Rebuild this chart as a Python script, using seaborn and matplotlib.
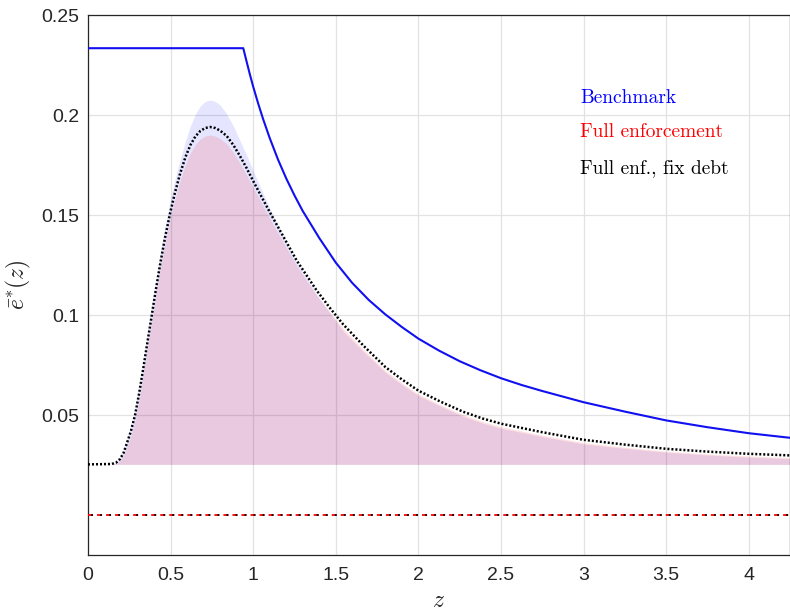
import matplotlib
matplotlib.use('Agg')
import matplotlib.pyplot as plt
import seaborn as sns

# ---------------- data ----------------
# Benchmark threshold (blue solid)
z_bench = [0.0, 0.94, 0.96, 0.98, 1.0, 1.03, 1.06, 1.1, 1.15, 1.2, 1.25, 1.3, 1.4,
           1.5, 1.6, 1.7, 1.8, 1.9, 2.0, 2.125, 2.25, 2.375, 2.5, 2.625, 2.75, 3.0,
           3.25, 3.5, 3.75, 4.0, 4.25]
e_bench = [0.2334, 0.2334, 0.2268, 0.2203, 0.2142, 0.2058, 0.1980, 0.1885, 0.1778,
           0.1683, 0.1598, 0.1520, 0.1385, 0.1262, 0.1160, 0.1075, 0.1003, 0.0940,
           0.0882, 0.0822, 0.0769, 0.0724, 0.0684, 0.0650, 0.0620, 0.0564, 0.0517,
           0.0473, 0.0439, 0.0409, 0.0386]

# common z grid for the full-enforcement family
z_fe = [0.0, 0.143, 0.17, 0.194, 0.215, 0.234, 0.26, 0.285, 0.31, 0.335,
        0.36, 0.386, 0.41, 0.436, 0.466, 0.496, 0.526, 0.557, 0.59, 0.62,
        0.65, 0.68, 0.71, 0.74, 0.77, 0.80, 0.84, 0.88, 0.92, 0.96,
        1.0, 1.041, 1.1, 1.162, 1.263, 1.384, 1.465, 1.545, 1.666, 1.8,
        1.9, 2.0, 2.136, 2.272, 2.39, 2.504, 2.75, 3.0, 3.25, 3.5,
        3.75, 4.0, 4.25]
# Full enf., fix debt (black dotted)
e_fixdebt = [0.0253, 0.0255, 0.0262, 0.0280, 0.0310, 0.0355, 0.0420, 0.0500, 0.0610, 0.0735,
             0.0865, 0.0998, 0.1122, 0.1250, 0.1385, 0.1505, 0.1610, 0.1705, 0.1790, 0.1850,
             0.1893, 0.1920, 0.1935, 0.1940, 0.1935, 0.1922, 0.1895, 0.1850, 0.1795, 0.1735,
             0.1670, 0.1606, 0.1515, 0.1423, 0.1273, 0.1123, 0.1035, 0.0953, 0.0848, 0.0740,
             0.0678, 0.0622, 0.0566, 0.0516, 0.0482, 0.0456, 0.0414, 0.0376, 0.0352, 0.0331,
             0.0317, 0.0306, 0.0298]
# Full enforcement shaded band, upper edge (red)
e_full_band = [0.0253, 0.0253, 0.0258, 0.0272, 0.0295, 0.0335, 0.0395, 0.0470, 0.0578, 0.0705,
               0.0835, 0.0968, 0.1092, 0.1220, 0.1355, 0.1475, 0.1578, 0.1670, 0.1752, 0.1810,
               0.1852, 0.1880, 0.1895, 0.1900, 0.1895, 0.1882, 0.1856, 0.1812, 0.1758, 0.1700,
               0.1637, 0.1574, 0.1484, 0.1393, 0.1246, 0.1099, 0.1013, 0.0933, 0.0829, 0.0722,
               0.0661, 0.0605, 0.0550, 0.0501, 0.0467, 0.0441, 0.0399, 0.0362, 0.0339, 0.0319,
               0.0305, 0.0295, 0.0287]
# Benchmark shaded band, upper edge (blue)
e_bench_band = [0.0253, 0.0254, 0.0265, 0.0288, 0.0325, 0.0375, 0.0448, 0.0535, 0.0650, 0.0780,
                0.0915, 0.1050, 0.1175, 0.1305, 0.1440, 0.1565, 0.1675, 0.1775, 0.1870, 0.1945,
                0.2005, 0.2045, 0.2068, 0.2075, 0.2068, 0.2050, 0.2005, 0.1945, 0.1872, 0.1800,
                0.1722, 0.1645, 0.1535, 0.1425, 0.1263, 0.1103, 0.1010, 0.0918, 0.0818, 0.0713,
                0.0652, 0.0597, 0.0543, 0.0493, 0.0459, 0.0433, 0.0392, 0.0355, 0.0333, 0.0314,
                0.0300, 0.0289, 0.0281]
band_base = 0.0253

# zero-level lines
z_zero = [0.0, 4.25]
e_zero = [0.0, 0.0]

x_ticks = [0, 0.5, 1, 1.5, 2, 2.5, 3, 3.5, 4]
x_ticklabels = ['0', '0.5', '1', '1.5', '2', '2.5', '3', '3.5', '4']
y_ticks = [0.05, 0.1, 0.15, 0.2, 0.25]
y_ticklabels = ['0.05', '0.1', '0.15', '0.2', '0.25']
legend_labels = ['Benchmark', 'Full enforcement', 'Full enf., fix debt']
legend_colors = ['blue', 'red', 'black']

# ---------------- style ----------------
sns.set_theme(style='whitegrid')
plt.rcParams['font.family'] = ['Liberation Sans', 'DejaVu Sans']
plt.rcParams['mathtext.fontset'] = 'cm'

W, H = 790, 613
fig = plt.figure(figsize=(W / 100, H / 100), dpi=100)
fig.patch.set_facecolor('white')
ax = fig.add_axes([88 / W, (H - 555) / H, (790 - 88) / W, (555 - 15) / H])
ax.set_facecolor('white')

# shaded bands
ax.fill_between(z_fe, band_base, e_bench_band, color='blue', alpha=0.10, lw=0, zorder=1)
ax.fill_between(z_fe, band_base, e_full_band, color='red', alpha=0.12, lw=0, zorder=1.1)

# lines
sns.lineplot(x=z_bench, y=e_bench, color='#1010f0', lw=1.5, ax=ax, zorder=3)
sns.lineplot(x=z_zero, y=e_zero, color='red', lw=1.3, ax=ax, zorder=3)
ax.lines[-1].set_linestyle((0, (2.8, 2.2)))
sns.lineplot(x=z_zero, y=e_zero, color='black', lw=1.3, ax=ax, zorder=3.1)
ax.lines[-1].set_linestyle((3.3, (1.0, 4.0)))
sns.lineplot(x=z_fe, y=e_fixdebt, color='black', lw=1.8, ax=ax, zorder=4)
ax.lines[-1].set_linestyle((0, (0.8, 0.8)))

# axes
ax.set_xlim(0, 4.25)
ax.set_ylim(-0.02, 0.25)
ax.set_xticks(x_ticks)
ax.set_xticklabels(x_ticklabels)
ax.set_yticks(y_ticks)
ax.set_yticklabels(y_ticklabels)
ax.grid(True, color='#e2e2e2', lw=0.9)
ax.set_axisbelow(True)
for s in ax.spines.values():
    s.set_visible(True)
    s.set_color('#262626')
    s.set_linewidth(0.9)
ax.tick_params(axis='both', direction='in', length=5, width=0.8, color='#262626',
               labelsize=14, labelcolor='#262626')
ax.tick_params(axis='x', pad=9)
ax.tick_params(axis='y', pad=6)
ax.tick_params(top=False, right=False)

ax.set_xlabel(r'$z$', fontsize=17, color='#262626', labelpad=4)
ax.set_ylabel(r'$\bar{e}^{*}(z)$', fontsize=17, color='#262626', labelpad=6)

# text legend
ypos = [0.846, 0.783, 0.717]
for lab, c, yy in zip(legend_labels, legend_colors, ypos):
    ax.text(0.701, yy, lab, color=c, fontsize=14, fontfamily='cmr10',
            transform=ax.transAxes, va='center', ha='left')

fig.savefig('out.png', dpi=100, facecolor='white')
